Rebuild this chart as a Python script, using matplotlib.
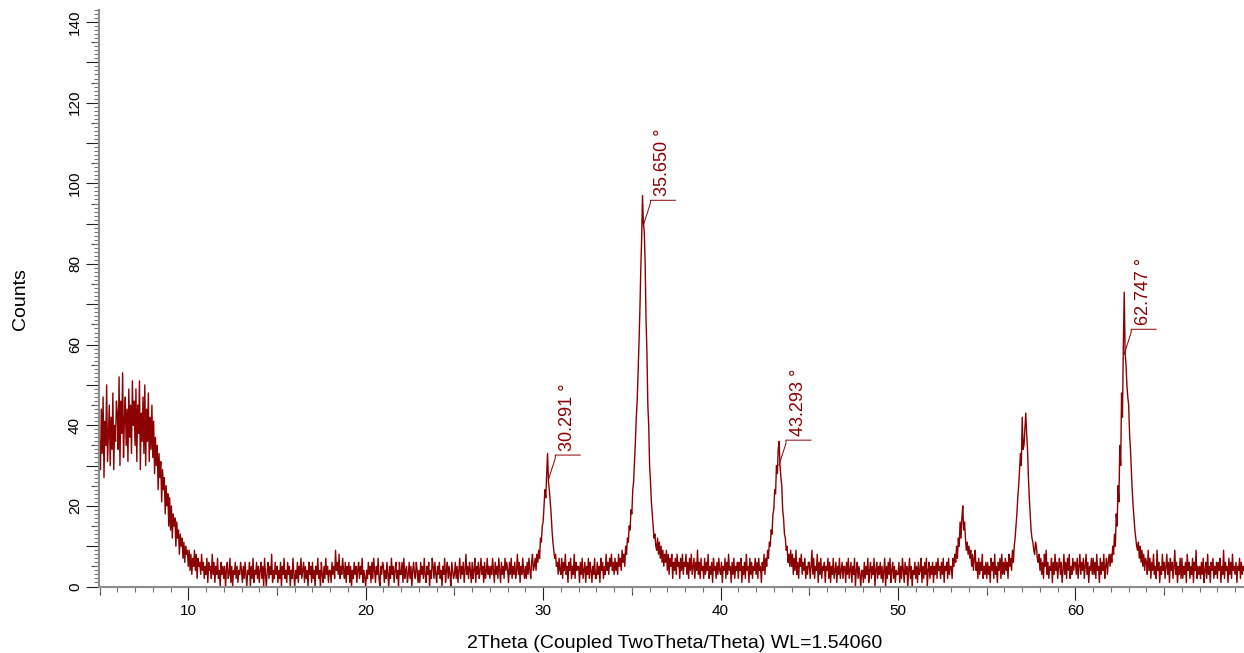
import numpy as np
import matplotlib
matplotlib.use('Agg')
import matplotlib.pyplot as plt
import matplotlib.transforms as mtransforms
from matplotlib.ticker import MultipleLocator, FuncFormatter

plt.rcParams['font.family'] = ['Liberation Sans', 'DejaVu Sans']

# XRD scan in 0.05 degree steps from 5.0 to 69.5
# (one line per degree)
theta_start, theta_step = 5.0, 0.05
counts = [
    36, 29, 44, 33, 47, 27, 41, 35, 50, 31, 38, 45, 30, 42, 34, 48, 29, 40, 36, 46,   # 5
    43, 34, 52, 30, 46, 38, 53, 32, 41, 47, 35, 44, 31, 49, 37, 45, 33, 51, 40, 46,   # 6
    35, 49, 31, 45, 38, 51, 29, 43, 36, 47, 33, 50, 30, 44, 36, 48, 31, 42, 34, 45,   # 7
    32, 41, 28, 37, 30, 35, 24, 33, 27, 31, 21, 29, 24, 27, 18, 25, 20, 23, 15, 22,   # 8
    14, 20, 12, 18, 15, 17, 10, 16, 12, 14, 8, 13, 10, 12, 7, 11, 6, 10, 8, 9,        # 9
    5, 9, 4, 8, 3, 7, 5, 9, 4, 8, 2, 7, 5, 6, 3, 8, 4, 6, 2, 5,                       # 10
    3, 7, 1, 6, 4, 5, 2, 8, 3, 6, 1, 5, 3, 7, 2, 4, 0, 6, 3, 5,                       # 11
    2, 5, 0, 4, 6, 2, 3, 7, 1, 5, 0, 4, 3, 6, 2, 5, 1, 4, 3, 6,                       # 12
    4, 1, 5, 2, 6, 3, 0, 4, 3, 6, 0, 5, 2, 7, 1, 4, 3, 6, 2, 5,                       # 13
    1, 4, 6, 2, 5, 0, 7, 3, 0, 4, 6, 2, 5, 3, 8, 1, 4, 2, 6, 3,                       # 14
    5, 1, 4, 2, 6, 0, 5, 3, 7, 2, 4, 1, 6, 3, 5, 0, 4, 2, 7, 3,                       # 15
    0, 4, 2, 6, 1, 5, 3, 7, 2, 4, 6, 1, 5, 2, 4, 0, 6, 3, 5, 1,                       # 16
    6, 2, 4, 0, 5, 3, 7, 2, 4, 0, 6, 3, 1, 5, 2, 7, 3, 5, 1, 4,                       # 17
    4, 1, 6, 3, 5, 2, 9, 4, 6, 3, 8, 2, 5, 3, 7, 4, 2, 6, 1, 5,                       # 18
    3, 6, 1, 5, 0, 4, 2, 6, 3, 5, 1, 4, 6, 2, 5, 3, 7, 1, 4, 2,                       # 19
    0, 4, 2, 6, 3, 5, 1, 6, 2, 7, 4, 1, 5, 3, 7, 2, 0, 5, 3, 6,                       # 20
    5, 1, 4, 2, 6, 3, 0, 5, 2, 7, 3, 5, 1, 4, 6, 2, 4, 0, 6, 3,                       # 21
    3, 6, 1, 7, 2, 4, 5, 1, 3, 6, 2, 5, 0, 4, 6, 3, 2, 6, 4, 1,                       # 22
    4, 1, 6, 3, 5, 2, 7, 3, 1, 5, 3, 6, 0, 4, 2, 7, 5, 2, 6, 3,                       # 23
    1, 5, 3, 6, 2, 4, 0, 5, 3, 7, 1, 4, 6, 2, 5, 3, 0, 6, 4, 2,                       # 24
    3, 6, 2, 5, 1, 4, 7, 2, 5, 3, 6, 1, 4, 8, 3, 5, 2, 6, 4, 1,                       # 25
    6, 2, 4, 7, 1, 5, 3, 6, 2, 4, 7, 3, 5, 1, 6, 2, 4, 7, 3, 5,                       # 26
    2, 5, 3, 7, 4, 1, 6, 3, 5, 2, 7, 4, 1, 6, 3, 5, 2, 7, 4, 6,                       # 27
    4, 1, 6, 3, 7, 2, 5, 3, 6, 2, 4, 8, 3, 6, 1, 5, 3, 7, 4, 2,                       # 28
    5, 2, 6, 3, 7, 4, 2, 6, 8, 4, 5, 7, 4, 8, 6, 9, 7, 12, 11, 15,                    # 29
    16, 20, 24, 22, 28, 33, 26, 24, 21, 18, 14, 11, 9, 7, 8, 5, 6, 3, 7, 4,           # 30
    3, 7, 2, 6, 4, 8, 3, 5, 1, 6, 4, 7, 2, 5, 3, 8, 2, 6, 4, 5,                       # 31
    5, 1, 6, 3, 7, 2, 4, 6, 1, 5, 3, 7, 2, 6, 4, 1, 5, 3, 7, 2,                       # 32
    2, 6, 3, 5, 1, 7, 4, 6, 2, 5, 3, 8, 4, 6, 3, 7, 5, 8, 4, 6,                       # 33
    3, 7, 4, 6, 3, 8, 5, 7, 4, 9, 6, 8, 5, 10, 8, 12, 11, 15, 14, 19,                 # 34
    18, 24, 26, 31, 36, 42, 46, 53, 60, 68, 78, 86, 97, 90, 88, 80, 66, 58, 45, 40,   # 35
    30, 26, 21, 18, 15, 12, 13, 10, 9, 12, 8, 11, 7, 10, 6, 9, 5, 8, 6, 9,            # 36
    4, 8, 3, 7, 5, 8, 2, 6, 4, 7, 3, 8, 5, 6, 2, 7, 4, 8, 3, 6,                       # 37
    5, 8, 3, 6, 2, 7, 4, 8, 3, 5, 7, 2, 6, 4, 9, 3, 6, 2, 7, 4,                       # 38
    5, 2, 7, 3, 6, 4, 8, 2, 5, 3, 6, 1, 7, 4, 5, 2, 6, 3, 7, 4,                       # 39
    3, 6, 1, 5, 4, 7, 2, 6, 3, 8, 4, 5, 1, 6, 3, 7, 2, 5, 4, 6,                       # 40
    2, 6, 4, 7, 1, 5, 3, 6, 2, 8, 4, 5, 1, 7, 3, 6, 2, 5, 4, 7,                       # 41
    3, 6, 2, 7, 4, 5, 1, 6, 4, 8, 3, 7, 5, 9, 7, 11, 10, 14, 13, 18,                  # 42
    19, 24, 23, 30, 28, 34, 36, 30, 27, 25, 19, 17, 13, 12, 9, 10, 6, 8, 5, 9,        # 43
    5, 8, 3, 7, 4, 9, 3, 6, 2, 7, 5, 8, 3, 6, 4, 7, 2, 5, 3, 6,                       # 44
    6, 2, 5, 9, 3, 7, 2, 5, 4, 8, 1, 6, 3, 7, 2, 5, 4, 6, 1, 5,                       # 45
    4, 7, 2, 6, 1, 5, 3, 7, 2, 4, 6, 1, 5, 3, 7, 2, 4, 6, 2, 5,                       # 46
    5, 1, 6, 3, 7, 2, 4, 6, 1, 5, 3, 7, 0, 4, 6, 2, 5, 3, 0, 4,                       # 47
    4, 1, 6, 2, 5, 3, 7, 1, 4, 6, 2, 5, 3, 7, 0, 4, 6, 2, 5, 3,                       # 48
    6, 2, 5, 1, 4, 7, 0, 5, 2, 6, 3, 7, 1, 4, 6, 2, 5, 1, 4, 3,                       # 49
    3, 6, 1, 5, 2, 7, 4, 1, 6, 3, 5, 0, 4, 7, 2, 5, 0, 4, 3, 6,                       # 50
    2, 5, 1, 6, 3, 4, 7, 1, 5, 2, 6, 3, 7, 0, 4, 6, 2, 5, 3, 6,                       # 51
    1, 5, 3, 6, 2, 7, 4, 5, 2, 6, 3, 7, 1, 5, 4, 6, 2, 7, 3, 5,                       # 52
    5, 2, 7, 5, 8, 6, 10, 7, 12, 10, 16, 12, 17, 20, 14, 16, 12, 9, 11, 8,            # 53
    10, 7, 9, 5, 8, 4, 7, 9, 4, 6, 2, 7, 3, 6, 4, 8, 2, 5, 3, 6,                      # 54
    2, 6, 3, 5, 1, 7, 4, 6, 2, 8, 3, 5, 1, 6, 4, 7, 2, 8, 3, 6,                       # 55
    3, 7, 4, 6, 2, 8, 5, 7, 4, 9, 6, 10, 12, 15, 18, 22, 25, 29, 33, 30,              # 56
    42, 34, 35, 39, 43, 38, 34, 27, 22, 18, 14, 12, 11, 9, 8, 11, 10, 7, 6, 8,        # 57
    4, 7, 3, 6, 2, 8, 5, 9, 3, 6, 2, 5, 4, 7, 1, 6, 3, 8, 4, 6,                       # 58
    2, 5, 7, 3, 6, 1, 4, 8, 3, 6, 2, 7, 4, 8, 2, 5, 3, 7, 4, 6,                       # 59
    6, 3, 7, 2, 5, 8, 3, 6, 4, 7, 2, 5, 8, 3, 6, 1, 5, 4, 7, 3,                       # 60
    7, 3, 6, 2, 8, 4, 5, 1, 7, 3, 6, 4, 8, 2, 5, 7, 3, 6, 8, 5,                       # 61
    8, 6, 10, 8, 13, 10, 18, 15, 25, 21, 35, 30, 48, 42, 60, 73, 58, 55, 50, 47,      # 62
    45, 38, 34, 29, 24, 20, 17, 14, 12, 10, 9, 11, 7, 10, 6, 9, 5, 8, 4, 7,           # 63
    6, 3, 9, 4, 7, 2, 6, 4, 8, 3, 5, 2, 9, 4, 6, 1, 5, 3, 8, 4,                       # 64
    6, 2, 5, 8, 3, 6, 1, 7, 4, 6, 2, 5, 9, 3, 6, 1, 5, 3, 7, 2,                       # 65
    7, 2, 5, 3, 6, 1, 8, 4, 6, 2, 5, 3, 7, 1, 6, 4, 9, 2, 5, 3,                       # 66
    5, 2, 6, 3, 7, 1, 4, 6, 2, 8, 3, 5, 1, 6, 4, 7, 2, 5, 3, 6,                       # 67
    2, 6, 4, 7, 1, 5, 3, 9, 2, 6, 4, 5, 1, 7, 3, 6, 2, 8, 4, 5,                       # 68
    3, 6, 1, 5, 4, 7, 2, 6, 3, 5, 4,                                                  # 69
]
two_theta = theta_start + theta_step * np.arange(len(counts))

# labelled peaks: position and height where the leader starts
peak_pos = [30.291, 35.650, 43.293, 62.747]
peak_height = [26.4, 89.6, 30.1, 57.6]

red = '#8b0000'

fig = plt.figure(figsize=(12.44, 6.53), dpi=100)
ax = fig.add_axes([0.0796, 0.1006, 0.9204, 0.8841])

ax.plot(two_theta, counts, color=red, lw=1.0)

ax.set_xlim(4.97, 69.5)
ax.set_ylim(-0.2, 143)

for s in ['top', 'right']:
    ax.spines[s].set_visible(False)
for s in ['left', 'bottom']:
    ax.spines[s].set_color('#8c8c8c')
    ax.spines[s].set_linewidth(1.5)

ax.xaxis.set_major_locator(MultipleLocator(10))
ax.xaxis.set_minor_locator(MultipleLocator(1))
ax.yaxis.set_major_locator(MultipleLocator(10))
ax.yaxis.set_minor_locator(MultipleLocator(1))
ax.yaxis.set_major_formatter(FuncFormatter(lambda v, p: '%d' % v if int(round(v)) % 20 == 0 else ''))
ax.tick_params(which='major', length=9.4, width=0.8, color='#202020', pad=2.9, labelsize=11)
ax.tick_params(which='minor', length=3.6, width=0.8, color='#707070')
ax.tick_params(axis='y', labelrotation=90)

# medium ticks every 5
secx = ax.secondary_xaxis('bottom')
secx.set_xticks(np.arange(5, 70, 10))
secx.tick_params(length=5.8, width=0.8, color='#404040', labelbottom=False)
secx.spines['bottom'].set_visible(False)
secy = ax.secondary_yaxis('left')
secy.set_yticks(np.arange(5, 145, 10))
secy.tick_params(length=5.8, width=0.8, color='#404040', labelleft=False)
secy.spines['left'].set_visible(False)

plt.setp(ax.get_yticklabels(), va='center')

# peak labels with leader lines
for x, h in zip(peak_pos, peak_height):
    tr = fig.dpi_scale_trans + mtransforms.ScaledTranslation(x, h, ax.transData)
    ax.plot([0, 0.07, 0.07, 0.32], [0, 0.22, 0.25, 0.25], color=red, lw=0.7,
            transform=tr, clip_on=False)
    ax.text(0.195, 0.29, '%.3f °' % x, transform=tr, rotation=90, ha='center',
            va='bottom', color=red, fontsize=13)

fig.text(20 / 1244, 1 - 299 / 653, 'Counts', rotation=90, ha='center', va='center', fontsize=14)
fig.text(675 / 1244, 1 - 643 / 653, '2Theta (Coupled TwoTheta/Theta) WL=1.54060',
         ha='center', va='center', fontsize=14)

fig.savefig('out.png', dpi=100)
